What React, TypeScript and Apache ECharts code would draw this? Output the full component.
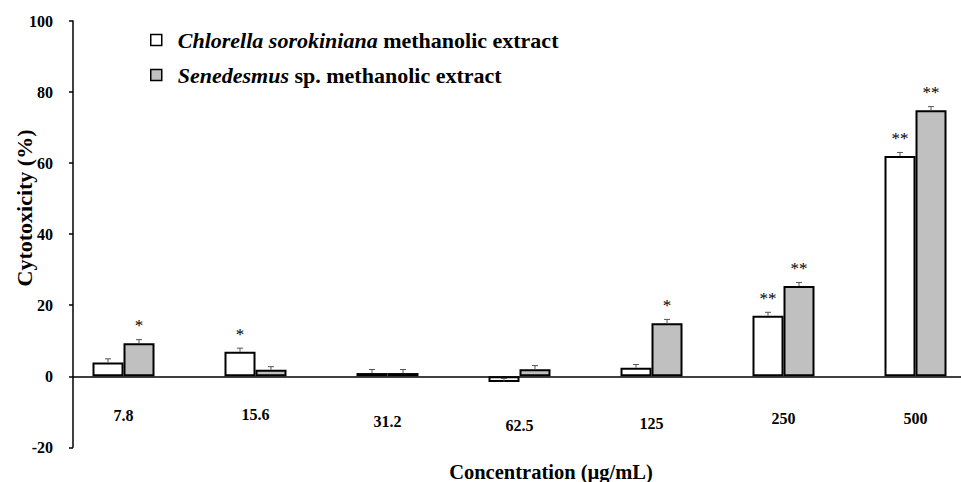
import React, { useEffect, useRef } from "react";
import * as echarts from "echarts";

const categories = ["7.8", "15.6", "31.2", "62.5", "125", "250", "500"];
const chlorellaName = "Chlorella sorokiniana methanolic extract";
const senedesmusName = "Senedesmus sp. methanolic extract";
const chlorella = [3.9, 6.9, 0.9, -1.6, 2.4, 17.0, 62.0];
const chlorellaErr = [1.0, 1.0, 1.0, 1.0, 0.9, 1.0, 1.0];
const chlorellaSig = ["", "*", "", "", "", "**", "**"];
const senedesmus = [9.3, 1.8, 0.9, 2.0, 14.9, 25.4, 74.9];
const senedesmusErr = [1.0, 0.9, 1.0, 1.0, 1.1, 1.0, 1.0];
const senedesmusSig = ["*", "", "", "", "*", "**", "**"];
const yMin = -20;
const yMax = 100;
const yStep = 20;

// layout/style (not data)
const FONT = '"Liberation Serif", "Times New Roman", serif';
const labelDy = [1, 0, 7, 11, 9, 4, 4];
const BAR_W = 31;
const X_MIN = (73 - 123.5) / 132;
const X_MAX = (961 - 123.5) / 132;

function errSeries(values: number[], errs: number[], offset: number) {
  return {
    type: "custom",
    silent: true,
    z: 5,
    data: values.map((v, i) => [i, v, errs[i]]),
    renderItem: (params: any, api: any) => {
      const i = api.value(0);
      const v = api.value(1);
      const e = api.value(2);
      const base = api.coord([i, v]);
      const top = api.coord([i, v + e]);
      const x = base[0] + offset;
      return {
        type: "group",
        children: [
          { type: "line", shape: { x1: x, y1: base[1], x2: x, y2: top[1] }, style: { stroke: "#555", lineWidth: 1 } },
          { type: "line", shape: { x1: x - 3, y1: top[1], x2: x + 3, y2: top[1] }, style: { stroke: "#555", lineWidth: 1 } },
        ],
      };
    },
  };
}

function sigLabel(sigs: string[]) {
  return {
    show: true,
    position: "top",
    distance: 9,
    color: "#000",
    fontFamily: FONT,
    fontSize: 17,
    formatter: (p: any) => sigs[p.dataIndex] || "",
  };
}

export default function App() {
  const ref = useRef<HTMLDivElement>(null);
  useEffect(() => {
    if (!ref.current) return;
    const chart = echarts.init(ref.current, undefined, { renderer: "svg" });
    const rich: any = {};
    categories.forEach((c, i) => {
      rich["c" + i] = { fontFamily: FONT, fontSize: 16, fontWeight: "bold", color: "#000", padding: [labelDy[i], 0, 0, 0] };
    });
    chart.setOption({
      animation: false,
      backgroundColor: "#fff",
      grid: { left: 73, right: 0, top: 21, bottom: 482 - 447.3, outerBoundsMode: "none", containLabel: false },
      legend: {
        data: [chlorellaName, senedesmusName],
        orient: "vertical",
        left: 150,
        top: 29,
        padding: 0,
        itemWidth: 11,
        itemHeight: 11,
        itemGap: 13,
        icon: "rect",
        itemStyle: { borderColor: "#000", borderWidth: 1.5 },
        textStyle: {
          fontFamily: FONT,
          fontSize: 22,
          fontWeight: "bold",
          color: "#000",
          rich: {
            g: { width: 11 },
            i: { fontFamily: FONT, fontSize: 22, fontWeight: "bold", fontStyle: "italic", color: "#000" },
            b: { fontFamily: FONT, fontSize: 22, fontWeight: "bold", color: "#000" },
          },
        },
        formatter: (name: string) =>
          name === chlorellaName
            ? "{g|}{i|Chlorella sorokiniana}{b| methanolic extract}"
            : "{g|}{i|Senedesmus}{b| sp. methanolic extract}",
      },
      xAxis: {
        type: "value",
        min: X_MIN,
        max: X_MAX,
        axisLine: { onZero: true, lineStyle: { color: "#000", width: 1.5 } },
        axisTick: { show: false },
        splitLine: { show: false },
        axisLabel: {
          customValues: categories.map((_, i) => i),
          margin: -41,
          formatter: (v: number) => {
            const i = Math.round(v);
            return `{c${i}|${categories[i]}}`;
          },
          rich,
        },
      },
      yAxis: {
        type: "value",
        min: yMin,
        max: yMax,
        interval: yStep,
        axisLine: { show: true, onZero: false, lineStyle: { color: "#000", width: 1.5 } },
        axisTick: { show: true, inside: false, length: 4, lineStyle: { color: "#000", width: 1.5 } },
        splitLine: { show: false },
        axisLabel: { fontFamily: FONT, fontSize: 16, fontWeight: "bold", color: "#000", margin: 20 },
      },
      graphic: [
        {
          type: "text",
          x: 24,
          y: 208,
          rotation: Math.PI / 2,
          style: { text: "Cytotoxicity (%)", font: `bold 22px ${FONT}`, fill: "#000", align: "center", verticalAlign: "middle" },
        },
        {
          type: "text",
          x: 551,
          y: 472,
          style: { text: "Concentration (µg/mL)", font: `bold 20.5px ${FONT}`, fill: "#000", align: "center", verticalAlign: "middle" },
        },
      ],
      series: [
        {
          name: chlorellaName,
          type: "bar",
          barWidth: BAR_W,
          barGap: "0%",
          data: chlorella.map((v, i) => [i, v]),
          itemStyle: { color: "#ffffff", borderColor: "#000", borderWidth: 2 },
          label: sigLabel(chlorellaSig),
          z: 3,
        },
        {
          name: senedesmusName,
          type: "bar",
          barWidth: BAR_W,
          barGap: "0%",
          data: senedesmus.map((v, i) => [i, v]),
          itemStyle: { color: "#c0c0c0", borderColor: "#000", borderWidth: 2 },
          label: sigLabel(senedesmusSig),
          z: 3,
        },
        errSeries(chlorella, chlorellaErr, -BAR_W / 2),
        errSeries(senedesmus, senedesmusErr, BAR_W / 2),
      ],
    });
    return () => chart.dispose();
  }, []);
  return <div ref={ref} style={{ position: "absolute", left: 0, top: 0, width: 961, height: 482 }} />;
}
